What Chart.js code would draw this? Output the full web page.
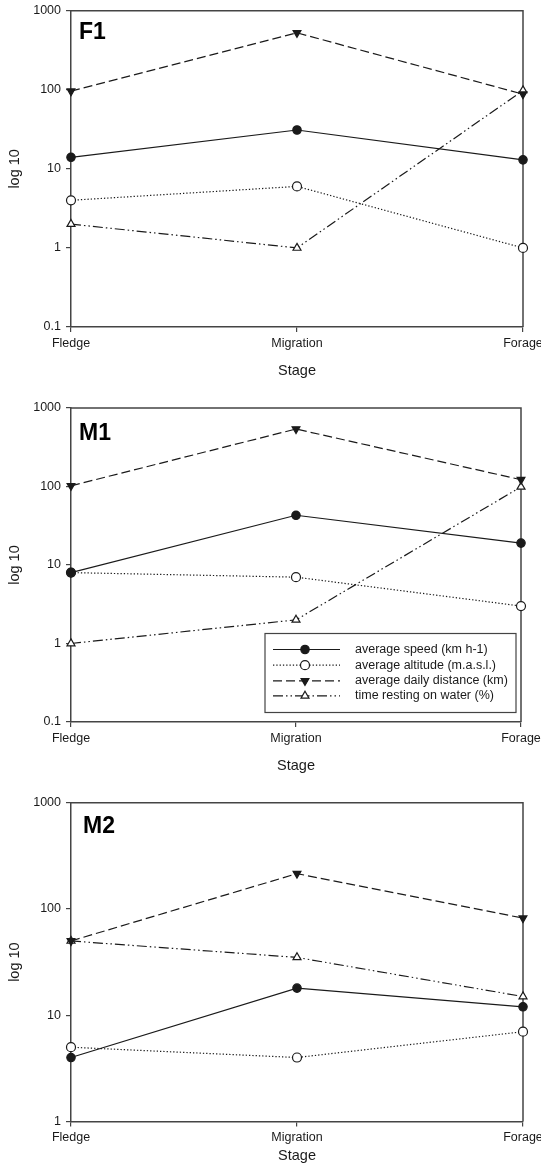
<!DOCTYPE html>
<html>
<head>
<meta charset="utf-8">
<script src="https://cdn.jsdelivr.net/npm/chart.js@4.4.0/dist/chart.umd.min.js"></script>
<style>
html, body { margin: 0; padding: 0; background: #fff; overflow: hidden; width: 541px; height: 1173px; }
canvas { position: absolute; left: 0; }
</style>
</head>
<body>
<canvas id="panelF1" width="541" height="384" style="top:0px"></canvas>
<canvas id="panelM1" width="541" height="395" style="top:384px"></canvas>
<canvas id="panelM2" width="541" height="390" style="top:779px"></canvas>
<script>
// categories + series names
const stages = ["Fledge", "Migration", "Forage"];
const seriesNames = ["average speed (km h-1)", "average altitude (m.a.s.l.)", "average daily distance (km)", "time resting on water (%)"];

// F1
const f1Speed = [14, 31, 13];
const f1Altitude = [4, 6, 1];
const f1Distance = [96, 525, 88];
const f1Resting = [2, 1, 98];

// M1
const m1Speed = [8, 43, 19];
const m1Altitude = [8, 7, 3];
const m1Distance = [102, 540, 122];
const m1Resting = [1, 2, 99];

// M2
const m2Speed = [4, 18, 12];
const m2Altitude = [5, 4, 7];
const m2Distance = [50, 215, 82];
const m2Resting = [50, 35, 15];

// tick labels of the y axes
const yTicksFull = [0.1, 1, 10, 100, 1000];
const yTicksM2 = [1, 10, 100, 1000];

const ink = "#1a1a1a";
const frame = "#444";
const fontFam = "'Liberation Sans', Arial, sans-serif";

// line/marker styles of the 4 series
const styles = [
    { dash: [], pointStyle: "circle", rotation: 0, fill: ink, radius: 4.2 },
    { dash: [1.3, 2], pointStyle: "circle", rotation: 0, fill: "#fff", radius: 4.5 },
    { dash: [9, 4], pointStyle: "triangle", rotation: 180, fill: ink, radius: 4.5 },
    { dash: [10, 3, 1.5, 3, 1.5, 3], pointStyle: "triangle", rotation: 0, fill: "#fff", radius: 4.6 }
];

function makeDatasets(series) {
    return series.map((values, i) => ({
        label: seriesNames[i],
        data: values,
        borderColor: ink,
        borderWidth: 1.2,
        borderDash: styles[i].dash,
        pointStyle: styles[i].pointStyle,
        rotation: styles[i].rotation,
        pointRadius: styles[i].radius,
        pointBackgroundColor: styles[i].fill,
        pointBorderColor: ink,
        pointBorderWidth: 1.2,
        tension: 0,
        clip: false
    }));
}

// frame on top + right, panel label, optional legend
const framePlugin = {
    id: "framePlugin",
    beforeDatasetsDraw(chart) {
        const { ctx, chartArea: a } = chart;
        ctx.save();
        ctx.strokeStyle = frame;
        ctx.lineWidth = 1.5;
        ctx.beginPath();
        ctx.moveTo(a.left, a.top);
        ctx.lineTo(a.right, a.top);
        ctx.lineTo(a.right, a.bottom);
        ctx.stroke();
        ctx.restore();
    },
    afterDraw(chart, args, opts) {
        const { ctx, chartArea: a } = chart;
        ctx.save();
        ctx.fillStyle = "#000";
        ctx.font = "bold 23px " + fontFam;
        ctx.textBaseline = "alphabetic";
        ctx.fillText(opts.text, a.left + opts.dx, a.top + opts.dy);
        ctx.restore();

        if (!opts.legend) return;
        const w = 251, h = 79;
        const x0 = a.right - 5 - w, y0 = a.bottom - 9.5 - h;
        ctx.save();
        ctx.fillStyle = "#fff";
        ctx.fillRect(x0, y0, w, h);
        ctx.strokeStyle = frame;
        ctx.lineWidth = 1.2;
        ctx.strokeRect(x0, y0, w, h);
        ctx.font = "12.5px " + fontFam;
        ctx.textBaseline = "middle";
        const rows = [16, 31.7, 47.4, 62.4];
        chart.data.datasets.forEach((ds, i) => {
            const y = y0 + rows[i];
            ctx.strokeStyle = ink;
            ctx.lineWidth = 1.2;
            ctx.setLineDash(styles[i].dash);
            ctx.beginPath();
            ctx.moveTo(x0 + 8, y);
            ctx.lineTo(x0 + 75, y);
            ctx.stroke();
            ctx.setLineDash([]);
            ctx.fillStyle = styles[i].fill;
            Chart.helpers.drawPoint(ctx, {
                pointStyle: styles[i].pointStyle,
                rotation: styles[i].rotation,
                radius: styles[i].radius,
                borderWidth: 1.2
            }, x0 + 40, y);
            ctx.fillStyle = ink;
            ctx.fillText(ds.label, x0 + 90, y);
        });
        ctx.restore();
    }
};

function makePanel(id, label, series, yTicks, lay) {
    return new Chart(document.getElementById(id).getContext("2d"), {
        type: "line",
        data: { labels: stages, datasets: makeDatasets(series) },
        plugins: [framePlugin],
        options: {
            responsive: false,
            animation: false,
            devicePixelRatio: 1,
            layout: { padding: { top: lay.padTop, right: lay.padRight, left: 0, bottom: 0 } },
            plugins: {
                legend: { display: false },
                tooltip: { enabled: false },
                framePlugin: { text: label, dx: lay.dx, dy: lay.dy, legend: lay.legend }
            },
            scales: {
                x: {
                    type: "category",
                    offset: false,
                    afterFit: s => { s.height = lay.xHeight; s.paddingLeft = 0; s.paddingRight = 0; },
                    ticks: { color: ink, font: { family: fontFam, size: 12.5 }, padding: 4, maxRotation: 0, autoSkip: false },
                    grid: { drawOnChartArea: false, tickLength: 5, color: frame, lineWidth: 1.2 },
                    border: { color: frame, width: 1.5 },
                    title: { display: true, text: "Stage", color: ink, font: { family: fontFam, size: 14.5 }, padding: { top: 4, bottom: 4 } }
                },
                y: {
                    type: "logarithmic",
                    min: yTicks[0],
                    max: yTicks[yTicks.length - 1],
                    afterBuildTicks: s => { s.ticks = yTicks.map(v => ({ value: v })); },
                    afterFit: s => { s.width = 71; s.paddingTop = 0; s.paddingBottom = 0; },
                    ticks: { color: ink, font: { family: fontFam, size: 12.5 }, padding: 5, autoSkip: false, callback: v => String(v) },
                    grid: { drawOnChartArea: false, tickLength: 5, color: frame, lineWidth: 1.2 },
                    border: { color: frame, width: 1.5 },
                    title: { display: true, text: "log 10", color: ink, font: { family: fontFam, size: 14.5 }, padding: { top: 6, bottom: 0 } }
                }
            }
        }
    });
}

makePanel("panelF1", "F1", [f1Speed, f1Altitude, f1Distance, f1Resting], yTicksFull,
    { padTop: 10.7, padRight: 18, xHeight: 57, dx: 8, dy: 28.6, legend: false });
makePanel("panelM1", "M1", [m1Speed, m1Altitude, m1Distance, m1Resting], yTicksFull,
    { padTop: 24, padRight: 20, xHeight: 57, dx: 8, dy: 32, legend: true });
makePanel("panelM2", "M2", [m2Speed, m2Altitude, m2Distance, m2Resting], yTicksM2,
    { padTop: 23.7, padRight: 18, xHeight: 47.5, dx: 12, dy: 30.6, legend: false });
</script>
</body>
</html>
